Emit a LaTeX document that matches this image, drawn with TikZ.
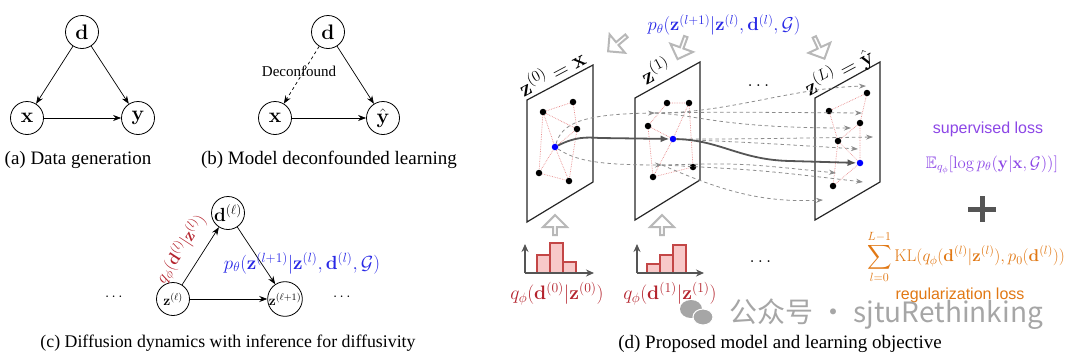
\RequirePackage{fix-cm}
\documentclass[tikz,border=0pt]{standalone}
\usepackage{amsmath,amssymb}
\usepackage[no-math]{fontspec}
\setmainfont{Liberation Serif}
\newfontfamily\helv{Liberation Sans}
\newfontfamily\cjkwm{Noto Sans CJK SC}
\usetikzlibrary{arrows.meta,shapes.arrows}
\definecolor{mblue}{RGB}{40,40,230}
\definecolor{mred}{RGB}{180,35,45}
\definecolor{mpurple}{RGB}{140,70,230}
\definecolor{morange}{RGB}{225,120,20}
\definecolor{dotred}{RGB}{232,140,140}
\definecolor{histfill}{RGB}{248,200,200}
\definecolor{histdraw}{RGB}{195,70,70}
\definecolor{maingray}{RGB}{85,85,85}
\definecolor{dashgray}{RGB}{140,140,140}
\newcommand\fs[1]{\fontsize{#1}{#1}\selectfont}
\tikzset{
  cnode/.style={circle, draw, line width=0.8pt, minimum size=33pt, inner sep=0pt, font=\fs{21}},
  snode/.style={circle, draw, line width=0.8pt, minimum size=33pt, inner sep=0pt, font=\fs{14}},
  arr/.style={-{Stealth[length=8pt,width=6pt]}, line width=0.7pt},
  capt/.style={font=\fs{19}, inner sep=0pt},
  plane/.style={line width=1.2pt, draw=black!85},
  gdot/.style={circle, fill=black, inner sep=0pt, minimum size=6.5pt},
  bdot/.style={circle, fill=blue, inner sep=0pt, minimum size=6.5pt},
  gedge/.style={dotred, densely dotted, line width=0.7pt},
  mainpath/.style={maingray, line width=1.8pt, -{Latex[length=9pt,width=7pt]}},
  dpath/.style={dashgray, dash pattern=on 3.5pt off 3pt, line width=0.8pt, -{Stealth[length=7pt,width=5pt]}},
  harrow/.style={single arrow, draw=black!28, line width=2pt, fill=white, minimum width=24pt, minimum height=24pt, single arrow head extend=5.5pt, inner sep=0pt},
  hbar/.style={fill=histfill, draw=histdraw, line width=1.4pt},
  haxis/.style={maingray, line width=1.5pt, -{Stealth[length=8pt,width=7pt]}},
}
\begin{document}
\begin{tikzpicture}[x=1pt, y=-1pt]
\useasboundingbox (0,0) rectangle (1080,357);
% ---------- (a)
\node[cnode] (ad) at (82,32) {$\mathbf{d}$};
\node[cnode] (ax) at (27,118) {$\mathbf{x}$};
\node[cnode] (ay) at (138,118) {$\mathbf{y}$};
\draw[arr] (ad) -- (ax);
\draw[arr] (ad) -- (ay);
\draw[arr] (ax) -- (ay);
\node[capt] (capa) at (78,160) {(a) Data generation};
% ---------- (b)
\node[cnode] (bd) at (328,32) {$\mathbf{d}$};
\node[cnode] (bx) at (275,118) {$\mathbf{x}$};
\node[cnode] (by) at (383,118) {$\hat{\mathbf{y}}$};
\draw[arr, dashed] (bd) -- (bx);
\draw[arr] (bd) -- (by);
\draw[arr] (bx) -- (by);
\node[font=\fs{15}, inner sep=0pt] (deco) at (299,71) {Deconfound};
\node[capt] (capb) at (329,160) {(b) Model deconfounded learning};
% ---------- (c)
\node[snode, font=\fs{19}] (cd) at (228,213) {$\mathbf{d}^{(\ell)}$};
\node[snode] (cz) at (173,299) {$\mathbf{z}^{(\ell)}$};
\node[snode] (cz1) at (285,299) {$\mathbf{z}^{(\ell+1)}$};
\draw[arr] (cz) -- (cd);
\draw[arr] (cd) -- (cz1);
\draw[arr] (cz) -- (cz1);
\node[font=\fs{15}] (cdl) at (115,297) {$\cdots$};
\node[font=\fs{15}] (cdr) at (343,297) {$\cdots$};
\node[mred, rotate=57, font=\fs{17}, inner sep=0pt] (cq) at (181,249) {$q_\phi(\mathbf{d}^{(l)}|\mathbf{z}^{(l)})$};
\node[mblue, font=\fs{19}, inner sep=0pt] (cp) at (302,263) {$p_\theta(\mathbf{z}^{(l+1)}|\mathbf{z}^{(l)},\mathbf{d}^{(l)},\mathcal{G})$};
\node[capt, font=\fs{17.8}] (capc) at (228,343) {(c) Diffusion dynamics with inference for diffusivity};
% ---------- (d) planes
\draw[plane] (527,100) -- (593,65) -- (593,182) -- (527,222) -- cycle;
\draw[plane] (635,98) -- (700,62) -- (700,180) -- (635,220) -- cycle;
\draw[plane] (815,98) -- (880,62) -- (880,182) -- (815,220) -- cycle;
\node[rotate=28, font=\fs{22}, inner sep=0pt] (l1) at (551,72) {$\mathbf{z}^{(0)}=\mathbf{x}$};
\node[rotate=28, font=\fs{22}, inner sep=0pt] (l2) at (655,70) {$\mathbf{z}^{(1)}$};
\node[rotate=28, font=\fs{22}, inner sep=0pt] (l3) at (839,72) {$\mathbf{z}^{(L)}=\hat{\mathbf{y}}$};
% plane 1 graph
\node[gdot] (a1) at (543,112) {};
\node[gdot] (a2) at (573,102) {};
\node[gdot] (a3) at (577,129) {};
\node[bdot] (ab) at (555,147) {};
\node[gdot] (a4) at (539,173) {};
\node[gdot] (a5) at (569,181) {};
\draw[gedge] (a1) -- (a2) (a2) -- (a3) (a1) -- (a3) (a1) -- (ab) (a1) -- (a4)
  (ab) -- (a3) (ab) -- (a4) (ab) -- (a5) (a4) -- (a5) (a3) -- (a5);
% plane 2 graph
\node[gdot] (b1) at (667,103) {};
\node[gdot] (b2) at (689,103) {};
\node[gdot] (b3) at (648,126) {};
\node[bdot] (bb) at (673,139) {};
\node[gdot] (b4) at (693,167) {};
\node[gdot] (b5) at (653,177) {};
\draw[gedge] (b1) -- (b2) (b1) -- (b3) (b2) -- (bb) (b2) -- (b4) (b3) -- (bb)
  (b3) -- (b5) (bb) -- (b5) (b5) -- (b4);
% plane 3 graph
\node[gdot] (c1) at (867,93) {};
\node[gdot] (c2) at (829,111) {};
\node[gdot] (c3) at (860,123) {};
\node[gdot] (c4) at (838,141) {};
\node[bdot] (cb) at (860,163) {};
\node[gdot] (c5) at (833,186) {};
\draw[gedge] (c2) -- (c1) (c1) -- (c3) (c2) -- (c4) (c3) -- (c4) (c3) -- (cb)
  (c4) -- (cb) (c4) -- (c5) (c5) -- (cb);
% dashed flows
\coordinate (s1) at (655,113);
\coordinate (s3) at (662,165);
\coordinate (e1) at (866,86);
\coordinate (e2) at (862,113);
\coordinate (e3) at (851,128);
\coordinate (e4) at (873,137);
\coordinate (e5) at (858,149);
\coordinate (e6) at (836,173);
\coordinate (e7) at (863,182);
\coordinate (e8) at (823,200);
\draw[dpath] (ab) .. controls (562,124) and (580,114) .. (s1);
\draw[dpath] (ab) .. controls (575,160) and (595,165) .. (s3);
\draw[dpath] (s1) .. controls (730,113) and (790,88) .. (e1);
\draw[dpath] (s1) .. controls (720,112) .. (e2);
\draw[dpath] (s1) .. controls (700,115) and (720,128) .. (e3);
\draw[dpath] (bb) .. controls (740,139) .. (e4);
\draw[dpath] (bb) .. controls (760,143) .. (e5);
\draw[dpath] (s3) .. controls (740,163) .. (e6);
\draw[dpath] (s3) .. controls (760,170) .. (e7);
\draw[dpath] (s3) .. controls (720,190) and (760,203) .. (e8);
% main path
\draw[mainpath] (ab) .. controls (575,137) and (585,137) .. (600,138) -- (bb);
\draw[mainpath] (bb) .. controls (720,140) and (740,160) .. (790,161) -- (cb);
% top formula and hollow arrows
\node[mblue, font=\fs{18.6}, inner sep=0pt] (tp) at (724,25) {$p_\theta(\mathbf{z}^{(l+1)}|\mathbf{z}^{(l)},\mathbf{d}^{(l)},\mathcal{G})$};
\node[harrow, rotate=220] (h1) at (618,43) {};
\node[harrow, rotate=250] (h2) at (682,47) {};
\node[harrow, rotate=295] (h3) at (819,47) {};
\node[harrow, rotate=90, minimum height=20pt] (h4) at (555,226) {};
\node[harrow, rotate=90, minimum height=20pt] (h5) at (662,226) {};
\node[font=\fs{19}, inner sep=0pt] (dtop) at (760,86) {$\dots$};
% histograms
\draw[hbar] (537,273) rectangle (550,255);
\draw[hbar] (550,273) rectangle (563,243);
\draw[hbar] (563,273) rectangle (576,262);
\draw[haxis] (525,273) -- (525,244);
\draw[haxis] (525,273) -- (594,273);
\draw[hbar] (647,273) rectangle (660,264);
\draw[hbar] (660,273) rectangle (673,255);
\draw[hbar] (673,273) rectangle (686,245);
\draw[haxis] (637,273) -- (637,244);
\draw[haxis] (637,273) -- (704,273);
\node[mred, font=\fs{19.5}, inner sep=0pt] (q0) at (557,294) {$q_\phi(\mathbf{d}^{(0)}|\mathbf{z}^{(0)})$};
\node[mred, font=\fs{19.5}, inner sep=0pt] (q1) at (670,294) {$q_\phi(\mathbf{d}^{(1)}|\mathbf{z}^{(1)})$};
\node[font=\fs{19}, inner sep=0pt] (dbot) at (762,262) {$\dots$};
% losses
\node[mpurple, font=\helv\fs{16}, inner sep=0pt] (sl) at (988,129) {supervised loss};
\node[mpurple, font=\fs{16.7}, inner sep=0pt] (se) at (992,165) {$\mathbb{E}_{q_\phi}[\log p_\theta(\mathbf{y}|\mathbf{x},\mathcal{G}))]$};
\draw[maingray, line width=5pt] (968,209) -- (996,209) (982,196) -- (982,222);
\node[morange, font=\fs{17}, inner sep=0pt] (rs) at (966,257) {$\displaystyle\sum_{l=0}^{L-1}\mathrm{KL}(q_\phi(\mathbf{d}^{(l)}|\mathbf{z}^{(l)}),p_0(\mathbf{d}^{(l)}))$};
\node[morange, font=\helv\fs{16}, inner sep=0pt] (rl) at (960,295) {regularization loss};
% watermark
\fill[black!35] (691,309) ellipse [x radius=11, y radius=9];
\fill[black!35, draw=white, line width=1pt] (703,317) ellipse [x radius=10, y radius=8];
\node[black!35, font=\cjkwm\fs{28}, inner sep=0pt] (wm) at (886,314) {公众号 · sjtuRethinking};
\node[capt] (capd) at (780,344) {(d) Proposed model and learning objective};
\end{tikzpicture}
\end{document}
